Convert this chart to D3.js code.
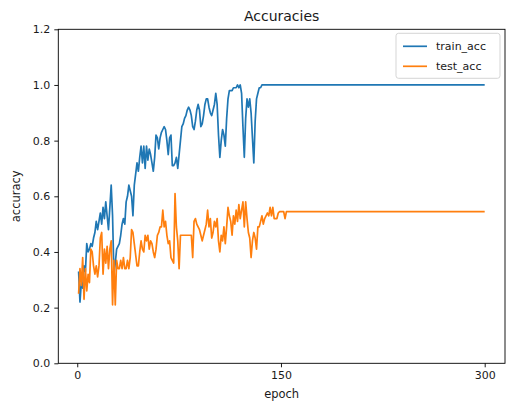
<!DOCTYPE html>
<meta charset="utf-8">
<script src="https://d3js.org/d3.v7.min.js"></script>
<style>

body {
  margin: 0;
  background: white;
}

svg text {
  font-family: "DejaVu Sans", sans-serif;
  fill: #1a1a1a;
}

.tick text {
  font-size: 11px;
}

.line {
  fill: none;
  stroke-width: 1.7;
  stroke-linejoin: round;
}

</style>
<body>
<div id="chart"></div>
<script type="text/javascript">

// Series names and colours
var seriesNames = ["train_acc", "test_acc"];
var seriesColors = ["#1f77b4", "#ff7f0e"];

// Tick values
var xTicks = [0, 150, 300];
var yTicks = [0.0, 0.2, 0.4, 0.6, 0.8, 1.0, 1.2];

// Train accuracy per epoch (epochs 1..300)
var trainAcc = [
  0.33,0.22,0.29,0.27,0.35,0.33,0.43,0.40,0.41,0.43,0.42,0.45,0.47,0.51,0.48,0.51,0.54,0.50,0.56,0.52,
  0.58,0.53,0.48,0.56,0.64,0.53,0.32,0.36,0.41,0.42,0.43,0.46,0.50,0.52,0.50,0.58,0.60,0.64,0.62,0.60,
  0.53,0.64,0.68,0.72,0.69,0.74,0.78,0.72,0.78,0.70,0.78,0.73,0.77,0.75,0.72,0.69,0.74,0.82,0.81,0.77,
  0.81,0.83,0.84,0.85,0.84,0.80,0.75,0.81,0.82,0.71,0.71,0.72,0.74,0.70,0.75,0.80,0.85,0.86,0.88,0.89,
  0.91,0.92,0.91,0.89,0.85,0.84,0.87,0.91,0.93,0.91,0.85,0.86,0.89,0.93,0.95,0.95,0.92,0.90,0.89,0.91,
  0.93,0.97,0.93,0.82,0.74,0.80,0.84,0.82,0.78,0.88,0.95,0.98,0.98,0.98,0.99,0.99,0.99,1.00,0.99,1.00,
  0.97,0.85,0.74,0.88,0.95,0.92,0.95,0.90,0.81,0.72,0.87,0.95,0.97,0.99,0.99,1.00,1.00,1.00,1.00,1.00,
  1.00,1.00,1.00,1.00,1.00,1.00,1.00,1.00,1.00,1.00,1.00,1.00,1.00,1.00,1.00,1.00,1.00,1.00,1.00,1.00,
  1.00,1.00,1.00,1.00,1.00,1.00,1.00,1.00,1.00,1.00,1.00,1.00,1.00,1.00,1.00,1.00,1.00,1.00,1.00,1.00,
  1.00,1.00,1.00,1.00,1.00,1.00,1.00,1.00,1.00,1.00,1.00,1.00,1.00,1.00,1.00,1.00,1.00,1.00,1.00,1.00,
  1.00,1.00,1.00,1.00,1.00,1.00,1.00,1.00,1.00,1.00,1.00,1.00,1.00,1.00,1.00,1.00,1.00,1.00,1.00,1.00,
  1.00,1.00,1.00,1.00,1.00,1.00,1.00,1.00,1.00,1.00,1.00,1.00,1.00,1.00,1.00,1.00,1.00,1.00,1.00,1.00,
  1.00,1.00,1.00,1.00,1.00,1.00,1.00,1.00,1.00,1.00,1.00,1.00,1.00,1.00,1.00,1.00,1.00,1.00,1.00,1.00,
  1.00,1.00,1.00,1.00,1.00,1.00,1.00,1.00,1.00,1.00,1.00,1.00,1.00,1.00,1.00,1.00,1.00,1.00,1.00,1.00,
  1.00,1.00,1.00,1.00,1.00,1.00,1.00,1.00,1.00,1.00,1.00,1.00,1.00,1.00,1.00,1.00,1.00,1.00,1.00,1.00
];

// Test accuracy per epoch (epochs 1..300)
var testAcc = [
  0.25,0.34,0.28,0.38,0.23,0.34,0.26,0.32,0.29,0.41,0.40,0.35,0.32,0.35,0.31,0.35,0.45,0.47,0.32,0.41,
  0.36,0.42,0.34,0.41,0.44,0.21,0.37,0.21,0.37,0.34,0.34,0.37,0.34,0.38,0.34,0.34,0.37,0.34,0.38,0.48,
  0.47,0.43,0.39,0.35,0.35,0.40,0.44,0.41,0.40,0.46,0.44,0.46,0.41,0.44,0.43,0.40,0.38,0.41,0.46,0.47,
  0.49,0.49,0.55,0.49,0.51,0.46,0.43,0.44,0.38,0.37,0.36,0.61,0.49,0.44,0.34,0.46,0.46,0.46,0.46,0.46,
  0.46,0.46,0.46,0.46,0.38,0.51,0.52,0.50,0.49,0.48,0.46,0.44,0.46,0.48,0.50,0.55,0.49,0.52,0.45,0.47,
  0.51,0.49,0.52,0.44,0.40,0.46,0.44,0.49,0.43,0.49,0.56,0.53,0.51,0.46,0.53,0.50,0.55,0.51,0.57,0.52,
  0.55,0.58,0.49,0.58,0.52,0.47,0.45,0.38,0.44,0.47,0.45,0.41,0.49,0.49,0.51,0.53,0.50,0.52,0.53,0.54,
  0.53,0.56,0.53,0.56,0.52,0.52,0.52,0.54,0.545,0.545,0.545,0.545,0.52,0.545,0.545,0.545,0.545,0.545,0.545,0.545,
  0.545,0.545,0.545,0.545,0.545,0.545,0.545,0.545,0.545,0.545,0.545,0.545,0.545,0.545,0.545,0.545,0.545,0.545,0.545,0.545,
  0.545,0.545,0.545,0.545,0.545,0.545,0.545,0.545,0.545,0.545,0.545,0.545,0.545,0.545,0.545,0.545,0.545,0.545,0.545,0.545,
  0.545,0.545,0.545,0.545,0.545,0.545,0.545,0.545,0.545,0.545,0.545,0.545,0.545,0.545,0.545,0.545,0.545,0.545,0.545,0.545,
  0.545,0.545,0.545,0.545,0.545,0.545,0.545,0.545,0.545,0.545,0.545,0.545,0.545,0.545,0.545,0.545,0.545,0.545,0.545,0.545,
  0.545,0.545,0.545,0.545,0.545,0.545,0.545,0.545,0.545,0.545,0.545,0.545,0.545,0.545,0.545,0.545,0.545,0.545,0.545,0.545,
  0.545,0.545,0.545,0.545,0.545,0.545,0.545,0.545,0.545,0.545,0.545,0.545,0.545,0.545,0.545,0.545,0.545,0.545,0.545,0.545,
  0.545,0.545,0.545,0.545,0.545,0.545,0.545,0.545,0.545,0.545,0.545,0.545,0.545,0.545,0.545,0.545,0.545,0.545,0.545,0.545
];

var allSeries = [trainAcc, testAcc];

// set the dimensions and margins of the graph
var totalWidth = 510, totalHeight = 402;
var margin = {top: 29.3, right: 5, bottom: 38.7, left: 58.3},
    width = totalWidth - margin.left - margin.right,
    height = totalHeight - margin.top - margin.bottom;

var svg = d3.select("#chart").append("svg")
    .attr("width", totalWidth)
    .attr("height", totalHeight)
  .append("g")
    .attr("transform", "translate(" + margin.left + "," + margin.top + ")");

// matplotlib style 5% padding around epochs 1..300
var x = d3.scaleLinear()
    .domain([1 - 0.05 * 299, 300 + 0.05 * 299])
    .range([0, width]);

var y = d3.scaleLinear()
    .domain([0, 1.2])
    .range([height, 0]);

// Axes
svg.append("g")
    .attr("class", "x axis")
    .attr("transform", "translate(0," + height + ")")
    .call(d3.axisBottom(x).tickValues(xTicks).tickSize(4).tickPadding(4).tickFormat(d3.format("d")));

svg.append("g")
    .attr("class", "y axis")
    .call(d3.axisLeft(y).tickValues(yTicks).tickSize(4).tickPadding(4).tickFormat(d3.format(".1f")));

svg.selectAll(".axis .domain").remove();
svg.selectAll(".axis .tick line").attr("stroke", "#000").attr("stroke-width", 0.9);

// Frame around plot area
svg.append("rect")
    .attr("x", 0)
    .attr("y", 0)
    .attr("width", width)
    .attr("height", height)
    .attr("fill", "none")
    .attr("stroke", "#000")
    .attr("stroke-width", 0.9);

// Lines
var line = d3.line()
    .x(function(d, i) { return x(i + 1); })
    .y(function(d) { return y(d); });

svg.selectAll(".line")
    .data(allSeries)
  .enter().append("path")
    .attr("class", "line")
    .attr("stroke", function(d, i) { return seriesColors[i]; })
    .attr("d", line);

// Title and axis labels
svg.append("text")
    .attr("x", width / 2)
    .attr("y", -8.5)
    .attr("text-anchor", "middle")
    .style("font-size", "14px")
    .text("Accuracies");

svg.append("text")
    .attr("x", width / 2)
    .attr("y", height + 35)
    .attr("text-anchor", "middle")
    .style("font-size", "11.5px")
    .text("epoch");

svg.append("text")
    .attr("transform", "translate(" + (-38) + "," + (height / 2) + ") rotate(-90)")
    .attr("text-anchor", "middle")
    .style("font-size", "11.5px")
    .text("accuracy");

// Legend
var legend = svg.append("g")
    .attr("transform", "translate(" + (width - 109) + ",4)");

legend.append("rect")
    .attr("width", 104)
    .attr("height", 45)
    .attr("rx", 2.5)
    .attr("fill", "white")
    .attr("stroke", "#d0d0d0")
    .attr("stroke-width", 0.9);

seriesNames.forEach(function(name, i) {
  var row = legend.append("g")
      .attr("transform", "translate(0," + (13 + i * 20) + ")");
  row.append("line")
      .attr("x1", 7)
      .attr("x2", 31)
      .attr("stroke", seriesColors[i])
      .attr("stroke-width", 1.7);
  row.append("text")
      .attr("x", 40)
      .attr("dy", "0.35em")
      .style("font-size", "11px")
      .text(name);
});

</script>
</body>
</html>
